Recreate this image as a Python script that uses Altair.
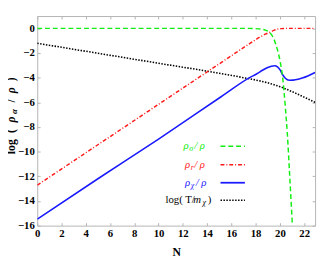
import altair as alt
import pandas as pd

# ---------------- data ----------------
N_sigma = [0, 17, 18, 18.4, 18.8, 19.16, 19.45, 19.69, 19.87, 20.02, 20.13, 20.23, 20.34, 20.45, 20.61, 20.8, 21.03]
rho_sigma = [0, 0, -0.02, -0.05, -0.14, -0.34, -0.75, -1.38, -2.0, -2.69, -3.3, -4.0, -5.1, -6.4, -8.5, -11.8, -16.0]

N_r = [0, 5, 10, 15, 17.5, 18.3, 18.8, 19.2, 19.5, 19.8, 20.1, 20.5, 22.9]
rho_r = [-12.72, -9.44, -6.16, -2.88, -1.24, -0.74, -0.47, -0.3, -0.16, -0.06, -0.02, 0, 0]

N_x = [0, 5, 10, 15, 17.5, 18.1, 18.6, 19.0, 19.3, 19.57, 19.8, 20.0, 20.23, 20.45, 20.77, 21.1, 21.5, 21.84, 22.3, 22.9]
rho_x = [-15.48, -12.2, -8.98, -5.65, -4.0, -3.68, -3.38, -3.18, -3.07, -3.03, -3.12, -3.35, -3.76, -4.05, -4.21, -4.2, -4.13, -4.03, -3.86, -3.58]

N_T = [0, 5, 10, 15, 17, 18, 19, 20, 21, 22, 22.9]
log_T = [-1.21, -2.02, -2.83, -3.64, -4.0, -4.19, -4.42, -4.73, -5.13, -5.58, -6.0]

x_ticks = list(range(0, 23, 2))
y_ticks = list(range(-16, 1, 2))

# ---------------- styling ----------------
X_DOMAIN = [0, 22.9]
Y_DOMAIN = [-16, 1]
W, H = 285, 215
GRAY = "#b4b4b4"
FONT = "Liberation Serif"
GREEN, RED, BLUE, BLACK = "#11ee11", "#ff1a1a", "#1a1aff", "#000000"

x_scale = alt.Scale(domain=X_DOMAIN, nice=False, zero=False)
y_scale = alt.Scale(domain=Y_DOMAIN, nice=False, zero=False)

x_axis = alt.Axis(orient="bottom", values=x_ticks, offset=-3, tickSize=3, domain=False, grid=False,
                  labelPadding=2, labelFont=FONT, labelFontWeight="bold", labelFontSize=11,
                  labelColor="black", labelFlush=False, labelOverlap=False, tickColor=GRAY,
                  title="N", titleFont=FONT, titleFontWeight="bold", titleFontSize=12,
                  titlePadding=9, titleColor="black")
y_axis = alt.Axis(orient="left", values=y_ticks, offset=-3, tickSize=3, domain=False, grid=False,
                  labelPadding=3, labelFont=FONT, labelFontWeight="bold", labelFontSize=11,
                  labelColor="black", labelFlush=False, labelOverlap=False, tickColor=GRAY, title=None)


def series(xs, ys, color, dash, width):
    df = pd.DataFrame({"N": xs, "v": ys})
    mark_kw = dict(color=color, strokeWidth=width, interpolate="monotone", clip=True)
    if dash:
        mark_kw["strokeDash"] = dash
    return alt.Chart(df).mark_line(**mark_kw).encode(
        x=alt.X("N:Q", scale=x_scale, axis=x_axis),
        y=alt.Y("v:Q", scale=y_scale, axis=y_axis),
    )


lines = alt.layer(
    series(N_T, log_T, BLACK, [1.5, 1.5], 1.6),
    series(N_r, rho_r, RED, [4, 2, 1, 2], 1.5),
    series(N_x, rho_x, BLUE, None, 1.6),
    series(N_sigma, rho_sigma, GREEN, [5, 3], 1.5),
)

# top / right frame ticks (no labels)
frame = alt.Chart(pd.DataFrame({"N": N_T, "v": log_T})).mark_line(opacity=0).encode(
    x=alt.X("N:Q", scale=x_scale,
            axis=alt.Axis(orient="top", values=x_ticks, offset=-3, tickSize=3, domain=False,
                          grid=False, labels=False, tickColor=GRAY, title=None)),
    y=alt.Y("v:Q", scale=y_scale,
            axis=alt.Axis(orient="right", values=y_ticks, offset=-3, tickSize=3, domain=False,
                          grid=False, labels=False, tickColor=GRAY, title=None)),
)

one = alt.Data(values=[{}])


def txt(s, x, y, color, size=11, style="italic", weight="normal", angle=None, align="left"):
    kw = dict(text=s, font=FONT, fontSize=size, fontStyle=style, fontWeight=weight,
              color=color, align=align, baseline="middle")
    if angle is not None:
        kw["angle"] = angle
    return alt.Chart(one).mark_text(**kw).encode(x=alt.value(x), y=alt.value(y))


def sample(y, color, dash, width):
    kw = dict(color=color, strokeWidth=width)
    if dash:
        kw["strokeDash"] = dash
    return alt.Chart(one).mark_rule(**kw).encode(x=alt.value(188), x2=alt.value(213), y=alt.value(y))


legend = [
    txt("ρ", 150, 133.5, GREEN), txt("σ", 156, 136.5, GREEN, size=8), txt("/ ρ", 161, 133.5, GREEN),
    sample(133.5, GREEN, [5, 3], 1.5),
    txt("ρ", 151.5, 152.5, RED), txt("r", 157.5, 155.5, RED, size=8), txt("/ ρ", 161, 152.5, RED),
    sample(152.5, RED, [4, 2, 1, 2], 1.5),
    txt("ρ", 151.5, 171, BLUE), txt("χ", 157.5, 174, BLUE, size=8), txt("/ ρ", 162.5, 171, BLUE),
    sample(171, BLUE, None, 1.8),
    txt("log( T/", 131.5, 189, BLACK, style="normal"), txt("m", 160, 189, BLACK),
    txt("χ", 169.5, 192, BLACK, size=8), txt(")", 175, 189, BLACK, style="normal"),
    sample(189, BLACK, [1.5, 1.5], 1.5),
]

# rotated y-axis title "log (ρα / ρ)"
TX = -26.5
ytitle = [
    txt("log", TX, 134, BLACK, size=12, style="normal", weight="bold", angle=270, align="center"),
    txt("(", TX, 118, BLACK, size=12, style="normal", weight="bold", angle=270, align="center"),
    txt("ρ", TX, 106, BLACK, size=12, style="italic", weight="bold", angle=270, align="center"),
    txt("α", TX + 3, 98, BLACK, size=9, style="italic", weight="bold", angle=270, align="center"),
    txt("/", TX, 87, BLACK, size=12, style="normal", weight="bold", angle=270, align="center"),
    txt("ρ", TX, 76, BLACK, size=12, style="italic", weight="bold", angle=270, align="center"),
    txt(")", TX, 65, BLACK, size=12, style="normal", weight="bold", angle=270, align="center"),
]

chart = alt.layer(lines, frame, *legend, *ytitle).resolve_scale(
    x="independent", y="independent"
).properties(
    width=W, height=H,
    autosize=alt.AutoSizeParams(type="none"),
    padding={"left": 30, "top": 5, "right": 3, "bottom": 31},
    background="white",
).configure_view(stroke=GRAY, strokeWidth=1)

chart.save("out.html", embed_options={"renderer": "svg", "actions": False})
